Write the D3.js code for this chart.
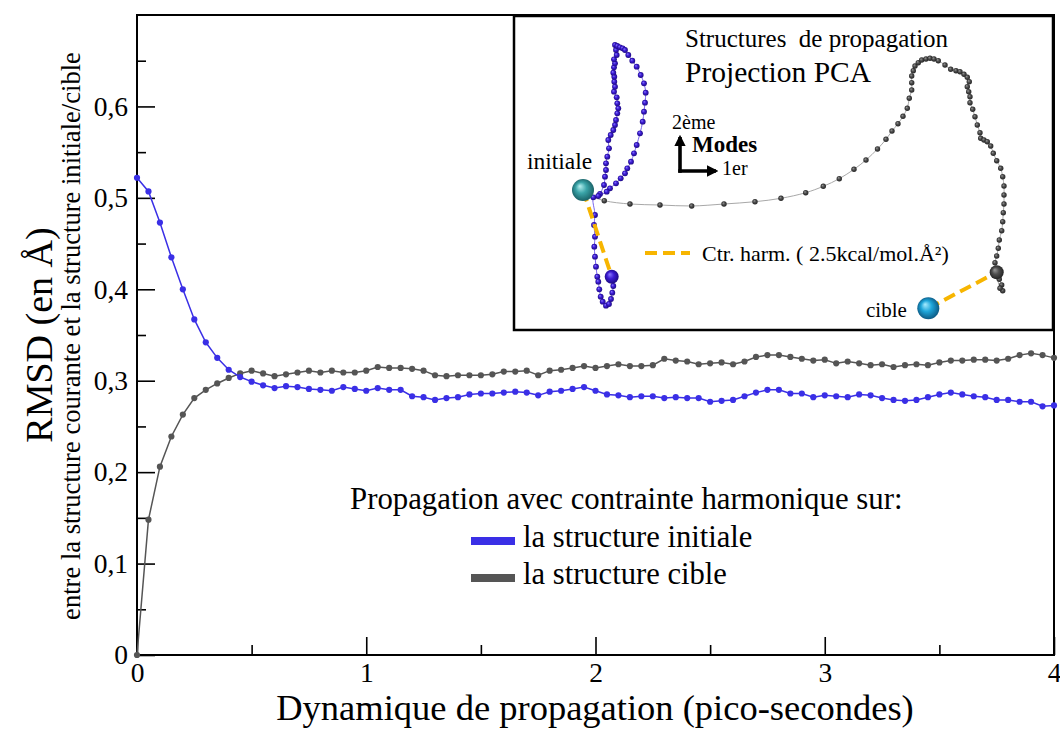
<!DOCTYPE html>
<html>
<head>
<meta charset="utf-8">
<script src="https://cdn.jsdelivr.net/npm/d3@7"></script>
<style>
  html, body { margin: 0; padding: 0; background: #fff; }
  svg { display: block; }
  svg text { font-family: "Liberation Serif", "Times New Roman", serif; fill: #000; }
</style>
</head>
<body>
<svg id="chart" width="1060" height="729"></svg>
<script>
// ---- RMSD time series (Å), one sample every 0.05 ps from 0 to 4 ps ----
const timeStep = 0.05;

const rmsdInitialConstraint = [
  0.522, 0.507, 0.473, 0.435, 0.400, 0.367, 0.342, 0.325, 0.312, 0.304,
  0.299, 0.295, 0.292, 0.294, 0.293, 0.291, 0.290, 0.289, 0.293, 0.291,
  0.289, 0.292, 0.290, 0.290, 0.283, 0.282, 0.279, 0.281, 0.282, 0.285,
  0.286, 0.286, 0.287, 0.288, 0.287, 0.284, 0.288, 0.289, 0.291, 0.293,
  0.289, 0.285, 0.284, 0.282, 0.283, 0.283, 0.281, 0.282, 0.281, 0.281,
  0.277, 0.278, 0.279, 0.283, 0.287, 0.290, 0.290, 0.286, 0.286, 0.282,
  0.284, 0.283, 0.282, 0.285, 0.284, 0.281, 0.279, 0.278, 0.279, 0.282,
  0.285, 0.287, 0.285, 0.283, 0.282, 0.279, 0.279, 0.277, 0.277, 0.272, 0.273
];

const rmsdTargetConstraint = [
  0.000, 0.148, 0.206, 0.239, 0.263, 0.281, 0.290, 0.297, 0.303, 0.308,
  0.311, 0.308, 0.305, 0.307, 0.309, 0.311, 0.309, 0.311, 0.309, 0.309,
  0.311, 0.315, 0.314, 0.314, 0.313, 0.311, 0.306, 0.305, 0.306, 0.306,
  0.306, 0.307, 0.310, 0.310, 0.311, 0.306, 0.311, 0.312, 0.314, 0.316,
  0.314, 0.316, 0.318, 0.316, 0.316, 0.317, 0.324, 0.322, 0.321, 0.318,
  0.319, 0.320, 0.318, 0.321, 0.326, 0.328, 0.328, 0.326, 0.324, 0.322,
  0.323, 0.319, 0.321, 0.319, 0.317, 0.318, 0.315, 0.317, 0.318, 0.317,
  0.320, 0.322, 0.322, 0.323, 0.323, 0.322, 0.324, 0.328, 0.330, 0.328, 0.325
];

// ---- axis ticks ----
const xMajorTicks = [0, 1, 2, 3, 4];
const xMinorTicks = [0.5, 1.5, 2.5, 3.5];
const yMajorTicks = [0, 0.1, 0.2, 0.3, 0.4, 0.5, 0.6];
const yMinorTicks = [0.05, 0.15, 0.25, 0.35, 0.45, 0.55, 0.65];

// ---- legend ----
const legendTitle = "Propagation avec contrainte harmonique sur:";
const legendLabels = ["la structure initiale", "la structure cible"];
const seriesColors = ["#3a2fe6", "#555555"];

// ---- PCA projection (1st mode, 2nd mode), arbitrary units ----
const pcaInitialPath = [
  [1.70, -0.40], [2.10, 0.50], [2.20, 1.33], [2.30, 2.00], [2.30, 2.67], [2.43, 3.33],
  [2.60, 4.17], [2.53, 5.00], [2.77, 5.50], [3.03, 6.00], [3.20, 6.50], [3.30, 7.00],
  [3.43, 7.67], [3.53, 8.17], [3.43, 8.67], [3.37, 9.27], [3.10, 9.83], [3.20, 10.33],
  [3.13, 10.83], [3.13, 11.33], [3.03, 11.73], [3.10, 12.27], [3.20, 12.67], [3.10, 13.07],
  [3.37, 13.50], [3.30, 14.00], [3.20, 14.50], [3.43, 14.40], [3.70, 14.27], [3.97, 14.17],
  [4.20, 14.00], [4.53, 13.50], [4.93, 12.93], [5.37, 12.33], [5.77, 11.50], [6.10, 10.67],
  [6.27, 9.73], [6.20, 8.73], [6.10, 7.83], [5.97, 6.83], [5.70, 5.67], [5.37, 4.50],
  [5.10, 3.67], [4.80, 2.83], [4.43, 2.17], [4.20, 1.67], [3.77, 1.17], [3.30, 0.67],
  [2.70, 0.17], [2.37, -0.17], [1.53, -0.60], [1.03, -0.73], [1.20, -2.50], [1.10, -3.50],
  [1.20, -4.67], [1.13, -5.67], [1.20, -6.67], [1.30, -7.67], [1.43, -8.67], [1.53, -9.17],
  [1.63, -9.93], [1.77, -10.67], [1.97, -11.17], [2.30, -11.57], [2.60, -11.40], [2.80, -10.90],
  [2.93, -10.27], [3.03, -9.60], [2.87, -8.67]
];

const pcaTargetPath = [
  [0.43, -0.50], [2.13, -1.07], [4.70, -1.40], [7.70, -1.50], [10.87, -1.60], [14.10, -1.40],
  [17.20, -1.17], [19.80, -0.83], [22.27, -0.27], [24.03, 0.37], [25.63, 1.13], [27.10, 2.07],
  [28.30, 3.00], [29.45, 4.10], [30.30, 5.07], [30.90, 5.90], [31.50, 6.63], [32.00, 7.37],
  [32.43, 8.17], [32.63, 9.17], [32.87, 10.00], [32.87, 10.73], [32.87, 11.40], [33.03, 11.93],
  [33.20, 12.40], [33.53, 12.73], [33.87, 13.00], [34.30, 13.10], [34.70, 13.17], [35.10, 13.10],
  [35.53, 12.93], [36.20, 12.50], [36.77, 12.07], [37.30, 11.93], [37.70, 11.83], [38.10, 11.57],
  [38.43, 11.27], [38.63, 10.83], [38.43, 10.33], [38.57, 9.83], [38.70, 9.33], [38.70, 8.73],
  [38.97, 8.07], [39.20, 7.33], [39.43, 6.50], [39.70, 5.73], [39.77, 5.17], [40.10, 5.00],
  [40.43, 4.83], [40.77, 4.40], [41.03, 3.67], [41.37, 2.93], [41.77, 2.17], [41.97, 1.33],
  [42.10, 0.40], [42.10, -0.50], [42.10, -1.40], [42.03, -2.27], [41.97, -3.17], [41.87, -4.07],
  [41.63, -5.00], [41.53, -5.83], [41.37, -6.60], [41.20, -7.27], [41.63, -8.93], [41.87, -9.50],
  [41.97, -10.07], [41.70, -9.83], [41.37, -8.23]
];

const pcaReferenceStructures = [
  { name: "initiale", pos: [0.00, 0.00], labelPos: [-5.6, 2.1] },
  { name: "cible", pos: [34.53, -11.83], labelPos: [28.3, -12.7] }
];

// ---- layout ----
const plot = { left: 137, right: 1054, top: 15, bottom: 655 };
const inset = { left: 514, right: 1053, top: 16, bottom: 330 };

const svg = d3.select("#chart");
const defs = svg.append("defs");

const x = d3.scaleLinear().domain([0, 4]).range([plot.left, plot.right]);
const y = d3.scaleLinear().domain([0, 0.7]).range([plot.bottom, plot.top]);

const times = rmsdInitialConstraint.map((_, i) => +(i * timeStep).toFixed(2));
const series = [
  { values: rmsdInitialConstraint, color: seriesColors[0], label: legendLabels[0] },
  { values: rmsdTargetConstraint, color: seriesColors[1], label: legendLabels[1] }
];

// ---- axes (inward ticks, labels outside) ----
const commaFmt = d => d === 0 ? "0" : d3.format(".1f")(d).replace(".", ",");

svg.append("g")
  .attr("transform", `translate(${plot.left},0)`)
  .call(d3.axisLeft(y).tickValues(yMajorTicks).tickFormat(commaFmt)
    .tickSizeInner(-18).tickSizeOuter(0).tickPadding(9));
svg.append("g")
  .attr("transform", `translate(${plot.left},0)`)
  .call(d3.axisLeft(y).tickValues(yMinorTicks).tickFormat("")
    .tickSizeInner(-9).tickSizeOuter(0));

svg.append("g")
  .attr("transform", `translate(0,${plot.bottom})`)
  .call(d3.axisBottom(x).tickValues(xMajorTicks).tickFormat(d3.format("d"))
    .tickSizeInner(-18).tickSizeOuter(0).tickPadding(7));
svg.append("g")
  .attr("transform", `translate(0,${plot.bottom})`)
  .call(d3.axisBottom(x).tickValues(xMinorTicks).tickFormat("")
    .tickSizeInner(-10).tickSizeOuter(0));

svg.selectAll(".tick line").attr("stroke", "#000").attr("stroke-width", 1.6);
svg.selectAll(".domain").remove();
svg.selectAll(".tick text").attr("font-size", 27.5);

// frame
svg.append("rect")
  .attr("x", plot.left).attr("y", plot.top)
  .attr("width", plot.right - plot.left).attr("height", plot.bottom - plot.top)
  .attr("fill", "none").attr("stroke", "#000").attr("stroke-width", 2);

// ---- series ----
const line = d3.line().x((d, i) => x(times[i])).y(d => y(d));
const seriesG = svg.append("g");
series.slice().reverse().forEach(s => {
  seriesG.append("path")
    .attr("d", line(s.values))
    .attr("fill", "none").attr("stroke", s.color).attr("stroke-width", 1.5);
  seriesG.append("g").selectAll("circle").data(s.values).join("circle")
    .attr("cx", (d, i) => x(times[i])).attr("cy", d => y(d))
    .attr("r", 3.1).attr("fill", s.color);
});

// ---- axis titles ----
svg.append("text")
  .attr("x", 595).attr("y", 719.5).attr("text-anchor", "middle")
  .attr("font-size", 36.5).text("Dynamique de propagation (pico-secondes)");

svg.append("text")
  .attr("transform", "translate(52,335) rotate(-90)").attr("text-anchor", "middle")
  .attr("font-size", 38).text("RMSD (en Å)");

svg.append("text")
  .attr("transform", "translate(80,336) rotate(-90)").attr("text-anchor", "middle")
  .attr("font-size", 26.6).text("entre la structure courante et la structure initiale/cible");

// ---- legend ----
const legend = svg.append("g");
legend.append("text").attr("x", 350).attr("y", 509).attr("font-size", 30.8).text(legendTitle);
const legendRows = [541, 578];
series.forEach((s, i) => {
  legend.append("line")
    .attr("x1", 471).attr("x2", 515).attr("y1", legendRows[i]).attr("y2", legendRows[i])
    .attr("stroke", s.color).attr("stroke-width", 8);
  legend.append("text")
    .attr("x", 523).attr("y", legendRows[i] + 6)
    .attr("font-size", 30.6).text(s.label);
});

// ---- inset: PCA projection of the propagation structures ----
const ig = svg.append("g");
ig.append("rect")
  .attr("x", inset.left).attr("y", inset.top)
  .attr("width", inset.right - inset.left).attr("height", inset.bottom - inset.top)
  .attr("fill", "#fff").attr("stroke", "#000").attr("stroke-width", 2.5);

const pcaX = d3.scaleLinear().domain([-6.9, 47]).range([inset.left, inset.right]);
const pcaY = d3.scaleLinear().domain([-14, 17.4]).range([inset.bottom, inset.top]);

function sphereGradient(id, light, base, dark) {
  const g = defs.append("radialGradient").attr("id", id)
    .attr("cx", "50%").attr("cy", "50%").attr("r", "55%")
    .attr("fx", "35%").attr("fy", "32%");
  g.append("stop").attr("offset", "0%").attr("stop-color", light);
  g.append("stop").attr("offset", "45%").attr("stop-color", base);
  g.append("stop").attr("offset", "100%").attr("stop-color", dark);
}
sphereGradient("gBlue", "#8c7bff", "#3c1cd4", "#1a0878");
sphereGradient("gGray", "#9a9a9a", "#4e4e4e", "#1e1e1e");
sphereGradient("gTeal", "#b8f0f0", "#3aa4a8", "#15585e");
sphereGradient("gCyan", "#a8ecff", "#1ea6da", "#0a4f78");

const pcaLine = d3.line().x(d => pcaX(d[0])).y(d => pcaY(d[1])).curve(d3.curveCatmullRom);

// thin trajectory traces
ig.append("path").attr("d", pcaLine(pcaTargetPath))
  .attr("fill", "none").attr("stroke", "#a8a8a8").attr("stroke-width", 1);
ig.append("path").attr("d", pcaLine(pcaInitialPath))
  .attr("fill", "none").attr("stroke", "#7a66ee").attr("stroke-width", 1);

// trajectory frames as small balls
ig.append("g").selectAll("circle").data(pcaTargetPath.slice(0, -1)).join("circle")
  .attr("cx", d => pcaX(d[0])).attr("cy", d => pcaY(d[1])).attr("r", 2.7)
  .attr("fill", "url(#gGray)");
ig.append("g").selectAll("circle").data(pcaInitialPath.slice(0, -1)).join("circle")
  .attr("cx", d => pcaX(d[0])).attr("cy", d => pcaY(d[1])).attr("r", 2.9)
  .attr("fill", "url(#gBlue)");

// harmonic constraints (dashed) between reference structure and final frame
const ctrColor = "#f7b500";
const constraints = [
  [pcaReferenceStructures[0].pos, pcaInitialPath[pcaInitialPath.length - 1]],
  [pcaReferenceStructures[1].pos, pcaTargetPath[pcaTargetPath.length - 1]]
];
ig.append("g").selectAll("line").data(constraints).join("line")
  .attr("x1", d => pcaX(d[0][0])).attr("y1", d => pcaY(d[0][1]))
  .attr("x2", d => pcaX(d[1][0])).attr("y2", d => pcaY(d[1][1]))
  .attr("stroke", ctrColor).attr("stroke-width", 4).attr("stroke-dasharray", "12,6");

// final frames
const lastBlue = pcaInitialPath[pcaInitialPath.length - 1];
const lastGray = pcaTargetPath[pcaTargetPath.length - 1];
ig.append("circle").attr("cx", pcaX(lastBlue[0])).attr("cy", pcaY(lastBlue[1])).attr("r", 7)
  .attr("fill", "url(#gBlue)");
ig.append("circle").attr("cx", pcaX(lastGray[0])).attr("cy", pcaY(lastGray[1])).attr("r", 7)
  .attr("fill", "url(#gGray)");

// reference structures
ig.append("g").selectAll("circle").data(pcaReferenceStructures).join("circle")
  .attr("cx", d => pcaX(d.pos[0])).attr("cy", d => pcaY(d.pos[1])).attr("r", 11)
  .attr("fill", (d, i) => i === 0 ? "url(#gTeal)" : "url(#gCyan)");
ig.append("g").selectAll("text").data(pcaReferenceStructures).join("text")
  .attr("x", d => pcaX(d.labelPos[0])).attr("y", d => pcaY(d.labelPos[1]))
  .attr("font-size", (d, i) => i === 0 ? 23.5 : 21).text(d => d.name);

// titles
ig.append("text").attr("x", pcaX(10.2)).attr("y", pcaY(14.3))
  .attr("font-size", 25).attr("xml:space", "preserve").text("Structures  de propagation");
ig.append("text").attr("x", pcaX(10.2)).attr("y", pcaY(10.8))
  .attr("font-size", 29.5).text("Projection PCA");

// mode axes glyph
const origin = [9.7, 1.9];
defs.append("marker").attr("id", "arrowHead")
  .attr("viewBox", "0 0 10 10").attr("refX", 8).attr("refY", 5)
  .attr("markerWidth", 3.2).attr("markerHeight", 3.2).attr("orient", "auto")
  .append("path").attr("d", "M0,0 L10,5 L0,10 z").attr("fill", "#000");
ig.append("line")
  .attr("x1", pcaX(origin[0])).attr("y1", pcaY(origin[1]) + 1.75)
  .attr("x2", pcaX(origin[0])).attr("y2", pcaY(origin[1] + 3.4))
  .attr("stroke", "#000").attr("stroke-width", 3.6).attr("marker-end", "url(#arrowHead)");
ig.append("line")
  .attr("x1", pcaX(origin[0]) - 1.75).attr("y1", pcaY(origin[1]))
  .attr("x2", pcaX(origin[0] + 3.6)).attr("y2", pcaY(origin[1]))
  .attr("stroke", "#000").attr("stroke-width", 3.6).attr("marker-end", "url(#arrowHead)");
ig.append("text").attr("x", pcaX(8.9)).attr("y", pcaY(6.1)).attr("font-size", 20).text("2ème");
ig.append("text").attr("x", pcaX(10.9)).attr("y", pcaY(3.8)).attr("font-size", 23)
  .attr("font-weight", "bold").text("Modes");
ig.append("text").attr("x", pcaX(13.9)).attr("y", pcaY(1.5)).attr("font-size", 20).text("1er");

// constraint key
ig.append("line")
  .attr("x1", pcaX(6.2)).attr("x2", pcaX(10.7)).attr("y1", pcaY(-6.3)).attr("y2", pcaY(-6.3))
  .attr("stroke", ctrColor).attr("stroke-width", 4).attr("stroke-dasharray", "12,6");
ig.append("text").attr("x", pcaX(11.9)).attr("y", pcaY(-7.1)).attr("font-size", 22)
  .text("Ctr. harm. ( 2.5kcal/mol.Å²)");
</script>
</body>
</html>
